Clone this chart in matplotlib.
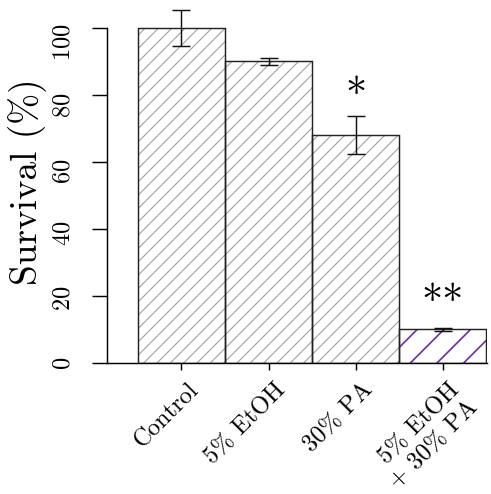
#!/usr/bin/env python3
# coding=utf-8
import matplotlib
matplotlib.use('Agg')
import matplotlib.pyplot as plt
import matplotlib.transforms as mtransforms
import numpy as np

plt.rcParams['font.family'] = ['cmr10', 'DejaVu Serif']
plt.rcParams['mathtext.fontset'] = 'cm'
plt.rcParams['axes.formatter.use_mathtext'] = True
plt.rcParams['hatch.linewidth'] = 1.0

DPI = 80

groups = ['Control', '5% EtOH', '30% PA', '5% EtOH\n+ 30% PA']
survival = [100, 90, 68, 10]
err = [5.4, 1.0, 5.6, 0.4]
stars = ['', '', '*', '**']
star_y = [0, 0, 79.7, 17.8]
hatch_cols = ['#a0a0a0', '#a0a0a0', '#a0a0a0', '#6a2ea0']
hatches = ['//', '//', '//', '/']
hatch_lw = [1.0, 1.0, 1.0, 1.5]
yticks = [0, 20, 40, 60, 80, 100]
# small downward nudges of the y labels (px), as in the original
ylab_shift = [0, 2, 4, 9.5, 10, 14.5]

fig = plt.figure(figsize=(491 / DPI, 494 / DPI), dpi=DPI)
ax = fig.add_axes([0.2179, 0.2652, 0.7739, 0.7324])

x = np.arange(len(groups))
bars = ax.bar(x, survival, width=1, color='white', edgecolor=hatch_cols,
              linewidth=0)
for b, h, lw in zip(bars, hatches, hatch_lw):
    b.set_hatch(h)
    if hasattr(b, 'set_hatch_linewidth'):
        b.set_hatch_linewidth(lw)
ax.bar(x, survival, width=1, fill=False, edgecolor='#222222', linewidth=1.3)
ax.errorbar(x, survival, yerr=err, fmt='none', ecolor='#111111',
            elinewidth=1.3, capsize=8, capthick=1.3)

for i in range(len(groups)):
    if stars[i]:
        ax.text(x[i], star_y[i], stars[i], ha='center', va='center',
                fontsize=38)

ax.set_xlim(-0.856, 3.51)
ax.set_ylim(0, 108)
ax.spines['top'].set_visible(False)
ax.spines['right'].set_visible(False)
ax.spines['left'].set_bounds(0, 100)
ax.spines['left'].set_linewidth(1.3)
ax.spines['bottom'].set_linewidth(1.3)

ax.set_yticks(yticks)
ax.tick_params(axis='y', length=13.5, width=1.3, labelsize=22, pad=15.5,
               labelrotation=90)
for lab, s in zip(ax.get_yticklabels(), ylab_shift):
    lab.set_va('center')
    lab.set_transform(lab.get_transform() + mtransforms.ScaledTranslation(
        0, -s / DPI, fig.dpi_scale_trans))

ax.set_xticks(x)
ax.set_xticklabels(groups, rotation=45, ha='right', va='top',
                   rotation_mode='anchor', multialignment='right')
ax.tick_params(axis='x', length=6, width=1.3, labelsize=22, pad=8)
offset = mtransforms.ScaledTranslation(6 / DPI, 0, fig.dpi_scale_trans)
for lab in ax.get_xticklabels():
    lab.set_transform(lab.get_transform() + offset)

ax.set_ylabel('Survival (%)', fontsize=33.5)
ax.yaxis.set_label_coords(-0.158, 0.5)

fig.savefig('out.png', dpi=DPI)
